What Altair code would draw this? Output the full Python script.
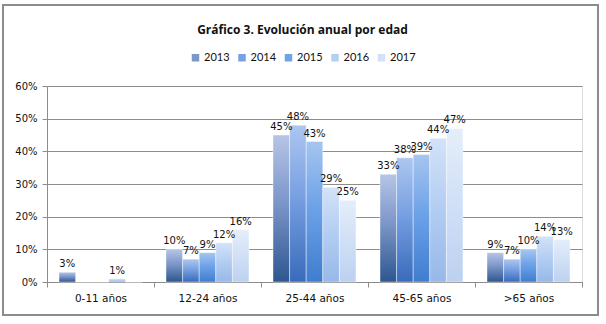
import altair as alt
import pandas as pd

categories = ["0-11 años", "12-24 años", "25-44 años", "45-65 años", ">65 años"]
years = ["2013", "2014", "2015", "2016", "2017"]
v2013 = [3, 10, 45, 33, 9]
v2014 = [0, 7, 48, 38, 7]
v2015 = [0, 9, 43, 39, 10]
v2016 = [1, 12, 29, 44, 14]
v2017 = [0, 16, 25, 47, 13]
series = [v2013, v2014, v2015, v2016, v2017]

# colour gradients (top, middle, bottom) per year and flat legend colours
grad_top = ["#b6c5e6", "#adc6f0", "#a6c5f0", "#d3e2f8", "#e5eefa"]
grad_mid = ["#7d97c9", "#78a0e2", "#6ea3e8", "#b5cff3", "#d2e1f7"]
grad_bot = ["#2d5690", "#386bbb", "#3f7dcf", "#97b8e8", "#bcd1f0"]

rows = []
for yr, vals in zip(years, series):
    for c, v in zip(categories, vals):
        rows.append({"cat": c, "year": yr, "value": v})
df = pd.DataFrame(rows)

GRAY = "#8c8c8c"

x = alt.X("cat:N", sort=categories,
          scale=alt.Scale(domain=categories, paddingInner=0, paddingOuter=0),
          axis=alt.Axis(title=None, labelAngle=0, tickBand="extent", grid=False,
                        domainColor=GRAY, tickColor=GRAY, tickSize=5,
                        labelFont="DejaVu Sans", labelFontSize=10.5, labelColor="#111",
                        labelPadding=6))
xo = alt.XOffset("year:N", scale=alt.Scale(domain=years, paddingInner=0, paddingOuter=0.723))
y = alt.Y("value:Q", scale=alt.Scale(domain=[0, 60]),
          axis=alt.Axis(title=None, values=[0, 10, 20, 30, 40, 50, 60],
                        labelExpr="datum.value + '%'", gridColor=GRAY, gridWidth=1,
                        domainColor=GRAY, tickColor=GRAY, tickSize=5,
                        labelFont="DejaVu Sans", labelFontSize=10, labelColor="#111",
                        labelPadding=5))

base = alt.Chart(df)

layers = []
for i, yr in enumerate(years):
    grad = {
        "gradient": "linear", "x1": 0, "y1": 0, "x2": 0, "y2": 1,
        "stops": [
            {"offset": 0, "color": grad_top[i]},
            {"offset": 0.45, "color": grad_mid[i]},
            {"offset": 1, "color": grad_bot[i]},
        ],
    }
    layers.append(
        base.transform_filter(alt.datum.year == yr)
        .mark_bar(fill=grad, stroke="#ffffff", strokeWidth=0.6, strokeOpacity=0.7)
        .encode(x=x, xOffset=xo, y=y)
    )

legend_layer = base.mark_square(opacity=0).encode(
    x=x, xOffset=xo, y=y,
    color=alt.Color("year:N", scale=alt.Scale(domain=years, range=grad_mid),
                    legend=alt.Legend(title=None, orient="none", direction="horizontal",
                                      legendX=143, legendY=-34, symbolType="square",
                                      symbolSize=56, symbolOpacity=1, symbolStrokeWidth=0,
                                      labelFont="Lato", labelFontSize=11, labelColor="#111",
                                      labelOffset=3, columnPadding=6.5, padding=0)),
)

labels = base.transform_filter(alt.datum.value > 0).transform_calculate(
    label="datum.value + '%'"
).mark_text(baseline="bottom", dy=-3, font="DejaVu Sans", fontSize=10, color="#111").encode(
    x=x, xOffset=xo, y=y, text="label:N"
)

border = alt.Chart(pd.DataFrame({"d": [0]})).mark_rect(
    filled=False, stroke=GRAY, strokeWidth=2
).encode(x=alt.value(-44), x2=alt.value(551), y=alt.value(-81), y2=alt.value(229))

chart = alt.layer(*layers, legend_layer, labels, border).properties(
    width=535, height=196,
    title=alt.TitleParams("Gráfico 3. Evolución anual por edad", font="Open Sans", fontSize=12,
                          fontWeight="bold", anchor="middle", color="#111", offset=10,
                          dy=43, dx=-12),
    autosize=alt.AutoSizeParams(type="none"),
    padding={"left": 47, "top": 86, "right": 24, "bottom": 42},
).configure_view(stroke=None).configure(background="white")

chart.save("out.html", embed_options={"renderer": "svg", "actions": False})
